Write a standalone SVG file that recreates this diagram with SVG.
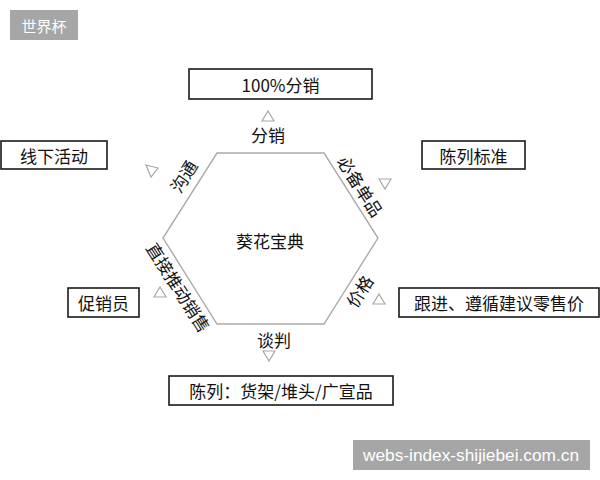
<svg xmlns="http://www.w3.org/2000/svg" width="600" height="480" viewBox="0 0 600 480">
<style>
.box{fill:#fff;stroke:#1a1a1a;stroke-width:1.6}
.t{font-family:"Noto Sans CJK SC","Noto Sans",sans-serif;font-size:17px;fill:#111;text-anchor:middle;dominant-baseline:central}
.tri{fill:#fff;stroke:#a8a8a8;stroke-width:1.2}
.tag{fill:#a6a6a6}
.wt{font-family:"Liberation Sans","Noto Sans CJK SC",sans-serif;font-size:16px;fill:#fff;text-anchor:middle;dominant-baseline:central}
</style>
<rect width="600" height="480" fill="#fff"/>
<g id="tag-top">
<rect class="tag" x="10" y="10" width="68" height="30"/>
<text class="wt" x="44" y="25" style="font-family:'Noto Sans CJK SC',sans-serif;font-size:15px">世界杯</text>
</g>
<g id="hexagon">
<polygon points="217,153 324,153 378,238 324,324 217,324 163,238" fill="#fff" stroke="#aaa" stroke-width="1.4"/>
<text class="t" x="270" y="240">葵花宝典</text>
</g>
<g id="edge-labels">
<text class="t" x="268" y="134">分销</text>
<text class="t" x="274" y="339">谈判</text>
<text class="t" transform="translate(183,176) rotate(-57.6)">沟通</text>
<text class="t" transform="translate(361,186) rotate(57.6)">必备单品</text>
<text class="t" transform="translate(359,291) rotate(-57.6)">价格</text>
<text class="t" transform="translate(179,287) rotate(57.6)">直接推动销售</text>
</g>
<g id="connectors">
<polygon class="tri" points="268,111 274,121 262,121"/>
<polygon class="tri" points="263,351 275,351 269,361"/>
<polygon class="tri" points="146,165 158,168 151,177"/>
<polygon class="tri" points="379,179 391,179 385,189"/>
<polygon class="tri" points="379,294 385,304 373,304"/>
<polygon class="tri" points="160,287 166,297 154,297"/>
</g>
<g id="n-100">
<rect class="box" x="189" y="69" width="183" height="30"/>
<text class="t" x="280.5" y="84">100%分销</text>
</g>
<g id="n-xianxia">
<rect class="box" x="1" y="141" width="106" height="28"/>
<text class="t" x="54" y="155">线下活动</text>
</g>
<g id="n-chenlie-std">
<rect class="box" x="422" y="141" width="103" height="28"/>
<text class="t" x="473.5" y="155">陈列标准</text>
</g>
<g id="n-cuxiao">
<rect class="box" x="68" y="288" width="71" height="29"/>
<text class="t" x="103.5" y="302.5">促销员</text>
</g>
<g id="n-price">
<rect class="box" x="399" y="288" width="200" height="29"/>
<text class="t" x="499" y="302.5">跟进、遵循建议零售价</text>
</g>
<g id="n-display">
<rect class="box" x="169" y="376" width="224" height="29"/>
<text class="t" x="281" y="390.5">陈列：货架/堆头/广宣品</text>
</g>
<g id="watermark">
<rect class="tag" x="353" y="440" width="237" height="30"/>
<text class="wt" x="471" y="455" textLength="216" lengthAdjust="spacingAndGlyphs">webs-index-shijiebei.com.cn</text>
</g>
</svg>
